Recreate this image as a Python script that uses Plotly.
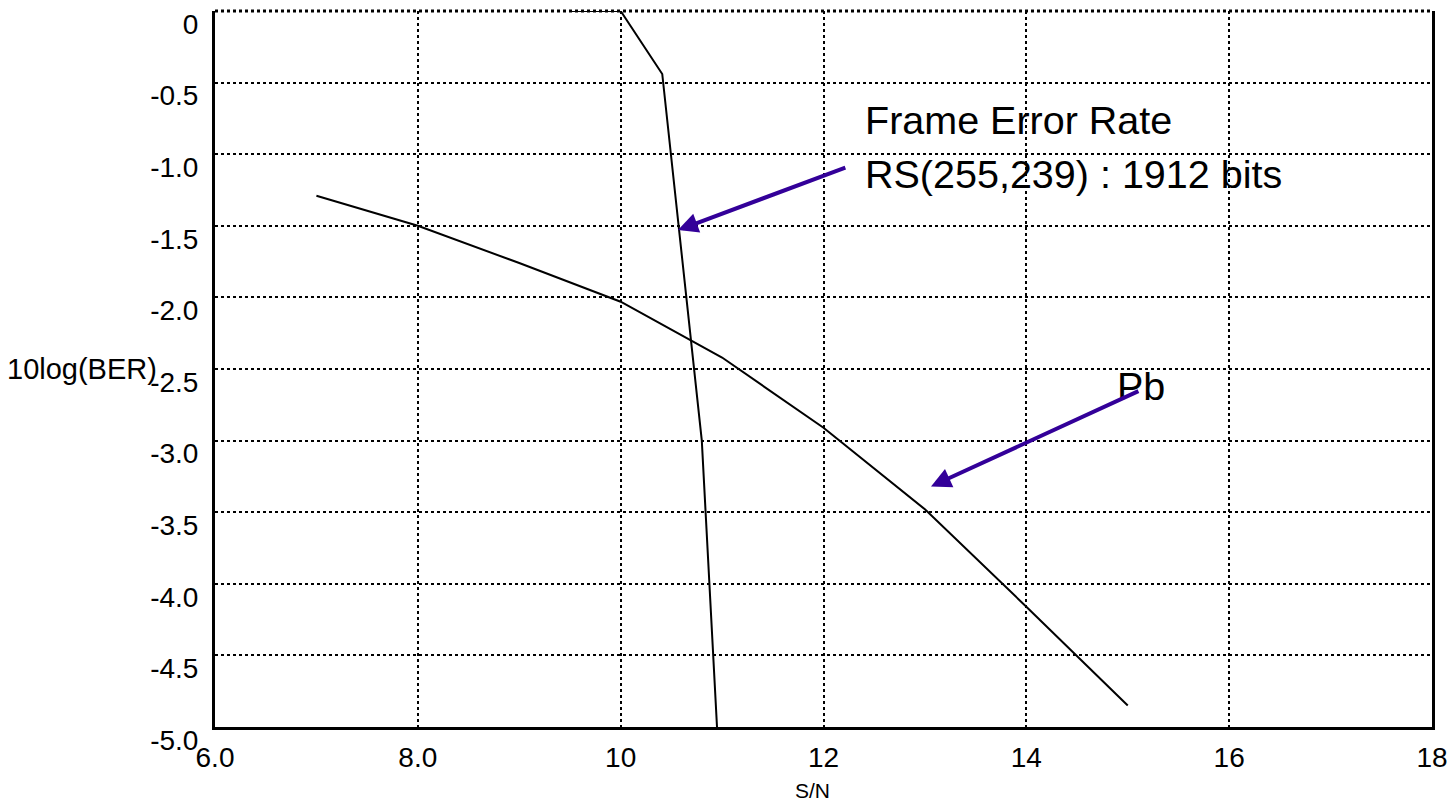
import plotly.graph_objects as go

# Data
sn_pb = [7, 8, 9, 10, 11, 12, 13, 14, 15]
ber_pb = [-1.29, -1.50, -1.76, -2.03, -2.42, -2.91, -3.48, -4.16, -4.85]

sn_fer = [9.5, 10.0, 10.41, 10.80, 10.95]
ber_fer = [0.0, 0.0, -0.44, -3.0, -5.0]

x_tickvals = [6, 8, 10, 12, 14, 16, 18]
x_ticktext = ["6.0", "8.0", "10", "12", "14", "16", "18"]
y_tickvals = [0, -0.5, -1.0, -1.5, -2.0, -2.5, -3.0, -3.5, -4.0, -4.5, -5.0]
y_ticktext = ["0", "-0.5", "-1.0", "-1.5", "-2.0", "-2.5", "-3.0", "-3.5", "-4.0", "-4.5", "-5.0"]

FONT = "Liberation Sans, Arial, sans-serif"
ARROW = "#330099"

fig = go.Figure()
fig.add_trace(go.Scatter(x=sn_pb, y=ber_pb, mode="lines",
                         line=dict(color="black", width=2), showlegend=False))
fig.add_trace(go.Scatter(x=sn_fer, y=ber_fer, mode="lines",
                         line=dict(color="black", width=2), showlegend=False))

fig.update_layout(
    width=1454, height=806,
    margin=dict(l=215, r=22, t=11, b=79, autoexpand=False),
    paper_bgcolor="white", plot_bgcolor="white",
    font=dict(family=FONT, size=28, color="black"),
    showlegend=False,
)
fig.update_xaxes(
    range=[6, 18], tickvals=x_tickvals, ticktext=x_ticktext,
    showgrid=True, gridcolor="black", gridwidth=2, griddash="dot",
    showline=True, linecolor="black", linewidth=3, mirror=False,
    ticks="", ticklabelstandoff=3, zeroline=False, automargin=False,
    ticklabeloverflow="allow",
    tickfont=dict(family=FONT, size=28, color="black"),
)
fig.update_yaxes(
    range=[-5, 0], tickvals=y_tickvals, ticktext=y_ticktext,
    showgrid=True, gridcolor="black", gridwidth=2, griddash="dot",
    showline=True, linecolor="black", linewidth=3, mirror=True,
    ticks="", ticklabelstandoff=8, ticklabelshift=13, zeroline=False, automargin=False,
    ticklabeloverflow="allow",
    tickfont=dict(family=FONT, size=28, color="black"),
)

# Top frame drawn as a dotted line like the reference
fig.add_shape(type="line", xref="paper", x0=0, x1=1, yref="paper", y0=1, y1=1,
              line=dict(color="black", width=3, dash="dot"))

# Axis titles
fig.add_annotation(text="10log(BER)", xref="paper", yref="paper",
                   x=-210/1217, y=0.5, xanchor="left", yanchor="middle",
                   showarrow=False, font=dict(family=FONT, size=29, color="black"))
fig.add_annotation(text="S/N", xref="paper", yref="paper",
                   x=0.4906, y=-0.088, xanchor="center", yanchor="middle",
                   showarrow=False, font=dict(family=FONT, size=21, color="black"))

# Labels
fig.add_annotation(text="Frame Error Rate", x=12.39, y=-0.76, xanchor="left", yanchor="middle",
                   showarrow=False, font=dict(family=FONT, size=39.5, color="black"))
fig.add_annotation(text="RS(255,239) : 1912 bits", x=12.39, y=-1.14, xanchor="left", yanchor="middle",
                   showarrow=False, font=dict(family=FONT, size=39.5, color="black"))
fig.add_annotation(text="Pb", x=14.87, y=-2.62, xanchor="left", yanchor="middle",
                   showarrow=False, font=dict(family=FONT, size=39.5, color="black"))

# Arrows
fig.add_annotation(text="", x=10.565, y=-1.53, ax=12.23, ay=-1.09,
                   xref="x", yref="y", axref="x", ayref="y",
                   showarrow=True, arrowhead=2, arrowsize=1, arrowwidth=4, arrowcolor=ARROW)
fig.add_annotation(text="", x=13.06, y=-3.32, ax=15.12, ay=-2.65,
                   xref="x", yref="y", axref="x", ayref="y",
                   showarrow=True, arrowhead=2, arrowsize=1, arrowwidth=4, arrowcolor=ARROW)

fig.write_html("out.html", config={"displayModeBar": False},
               post_script="document.body.style.margin='0px';document.body.style.overflow='hidden';")
